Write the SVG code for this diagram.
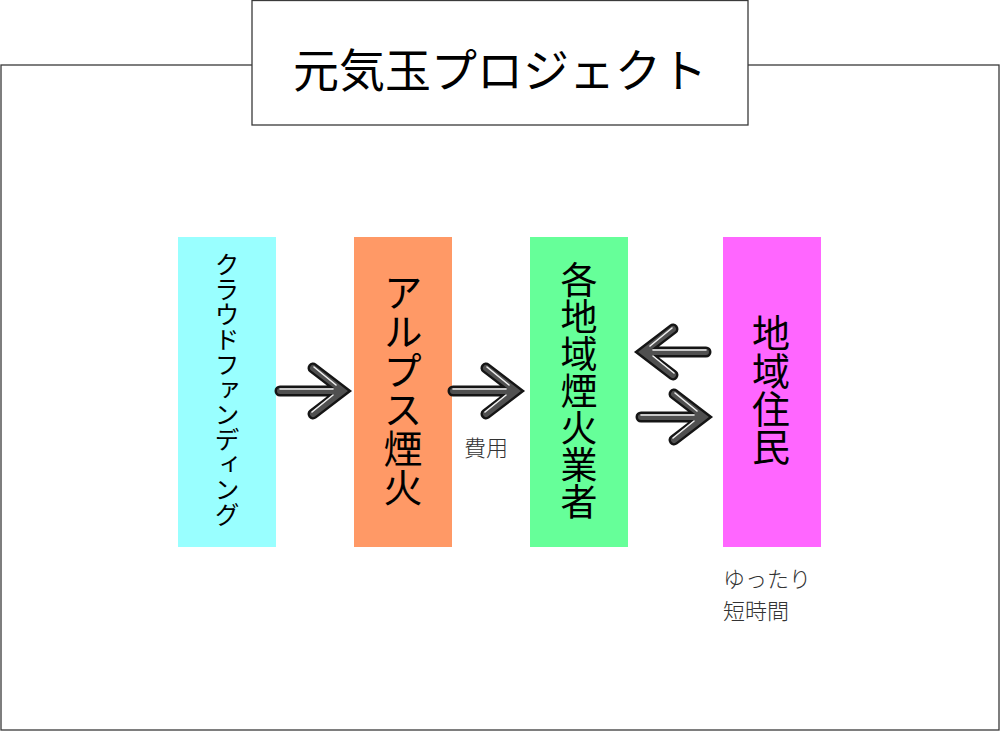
<svg xmlns="http://www.w3.org/2000/svg" width="1000" height="731" viewBox="0 0 1000 731">
<style>
.frame{fill:#fff;stroke:#3a3a3a;stroke-width:1.3}
.box{stroke:none}
.t{font-family:"Noto Sans CJK JP","Noto Sans",sans-serif;fill:#000}
.lbl{font-weight:300;fill:#333}
.v{writing-mode:vertical-rl;text-orientation:upright}
.a1{fill:none;stroke:#151515;stroke-width:11;stroke-linecap:round;stroke-linejoin:miter;stroke-miterlimit:6}
.a2{fill:none;stroke:#505050;stroke-width:6;stroke-linecap:round;stroke-linejoin:miter;stroke-miterlimit:6}
.a3{fill:none;stroke:#f0f0f0;stroke-width:1.6;stroke-linecap:round;stroke-linejoin:round}
</style>
<defs>
<g id="arr">
<path class="a1" d="M5,0 H64 M38,-23 L68,0 L38,23"/>
<path class="a2" d="M5,0 H64 M38,-23 L68,0 L38,23"/>
<path class="a3" d="M5,-2 H58 M39,-24 L61,-6 M37,21 L58,4"/>
</g>
</defs>
<rect class="frame" x="1" y="65" width="998" height="665"/>
<g id="title">
<rect class="frame" x="252" y="0.5" width="496" height="124.5"/>
<text class="t" x="500" y="87" font-size="46" text-anchor="middle">元気玉プロジェクト</text>
</g>
<g id="crowdfunding">
<rect class="box" x="178" y="237" width="98" height="310" fill="#99FFFF"/>
<text class="t v" x="227" y="252" font-size="25">クラウドファンディング</text>
</g>
<g id="alps">
<rect class="box" x="354" y="237" width="98" height="310" fill="#FF9966"/>
<text class="t v" x="403" y="273" font-size="39">アルプス煙火</text>
</g>
<g id="makers">
<rect class="box" x="530" y="237" width="98" height="310" fill="#66FF99"/>
<text class="t v" x="579" y="261" font-size="37">各地域煙火業者</text>
</g>
<g id="residents">
<rect class="box" x="723" y="237" width="98" height="310" fill="#FF66FF"/>
<text class="t v" x="771" y="314" font-size="38">地域住民</text>
</g>
<g id="connectors">
<use href="#arr" transform="translate(275,391)"/>
<use href="#arr" transform="translate(448,391)"/>
<use href="#arr" transform="translate(711,352) scale(-1,1)"/>
<use href="#arr" transform="translate(636,417)"/>
</g>
<g id="labels">
<text class="t lbl" x="464" y="456" font-size="22">費用</text>
<text class="t lbl" x="723" y="587" font-size="22">ゆったり</text>
<text class="t lbl" x="723" y="619" font-size="22">短時間</text>
</g>
</svg>
